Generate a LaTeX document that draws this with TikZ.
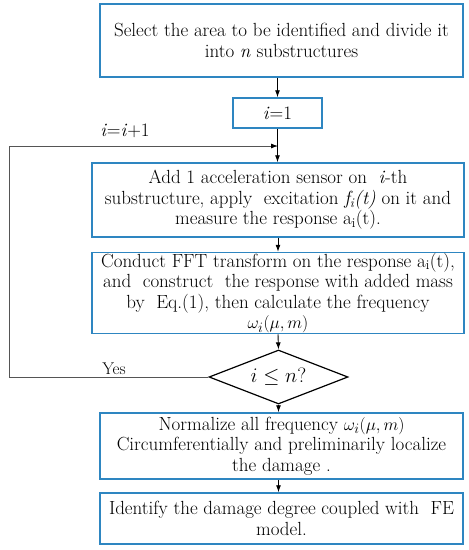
\documentclass[tikz,border=0pt]{standalone}
\usepackage{xcolor}
\usepackage{tikz}
\usepackage{amsmath}
\usetikzlibrary{positioning,shapes,arrows,arrows.meta,calc}

\definecolor{boxblue}{RGB}{46,134,193}
\definecolor{loopgray}{RGB}{85,85,85}

\begin{document}
\begin{tikzpicture}[x=1pt, y=-1pt,
    stepbox/.style={draw=boxblue, line width=1.5pt, rectangle, align=center, inner sep=0pt, font=\fontsize{19}{20.5}\selectfont},
    decbox/.style={draw=black, line width=1.2pt, diamond, aspect=2.57, inner sep=0pt, font=\fontsize{20}{22}\selectfont},
    arr/.style={-{Latex[length=7pt,width=5pt]}, black, line width=0.9pt},
    loopline/.style={-{Latex[length=7pt,width=5pt,color=black]}, loopgray, line width=0.8pt}]
    \useasboundingbox (0,0) rectangle (469,550);

    % Boxes
    \node[stepbox, minimum width=363, minimum height=73] (sel) at (281.5,40.5)
        {Select the area to be identified and divide it\\ into \textit{n} substructures};
    \node[stepbox, minimum width=89, minimum height=30] (init) at (277.5,113)
        {\textit{i}=1};
    \node[stepbox, minimum width=372, minimum height=74] (sensor) at (278,200)
        {Add 1 acceleration sensor on \ \textit{i}-th\\ substructure, apply \ excitation \textit{f\textsubscript{i}(t)} on it and\\ measure the response a\textsubscript{i}(t).};
    \node[stepbox, minimum width=372, minimum height=81] (fft) at (278,293)
        {Conduct FFT transform on the response a\textsubscript{i}(t),\\ and \ construct \ the response with added mass\\ by \ Eq.(1), then calculate the frequency\\ $\omega_i(\mu,m)$};
    \node[decbox, minimum width=139, minimum height=54] (check) at (278.5,377)
        {$i \leq n?$};
    \node[stepbox, minimum width=363, minimum height=66] (norm) at (281.5,446)
        {Normalize all frequency $\omega_i(\mu,m)$\\ Circumferentially and preliminarily localize\\ the damage .};
    \node[stepbox, minimum width=363, minimum height=51] (ident) at (281.5,518.5)
        {Identify the damage degree coupled with \ FE\\ model.};

    % Loop labels
    \node[font=\fontsize{19}{20}\selectfont] (incr) at (125,131) {\textit{i}=\textit{i}+1};
    \node[font=\fontsize{17}{18}\selectfont] (yes) at (114,369) {Yes};
    \coordinate (corner) at (9,146);
    \coordinate (merge) at (278,146);

    % Arrows
    \draw[arr] (sel.south -| init.north) -- (init.north);
    \draw[arr] (init.south) -- (sensor.north -| init.south);
    \draw[arr] (sensor.south) -- (fft.north);
    \draw[arr] (fft.south) -- (check.north);
    \draw[arr] (check.south) -- (norm.north -| check.south);
    \draw[arr] (norm.south -| check.south) -- (ident.north -| check.south);

    % Loop back
    \draw[loopline] (check.west) -- (check.west -| corner) -- (corner) -- (merge);
\end{tikzpicture}
\end{document}
